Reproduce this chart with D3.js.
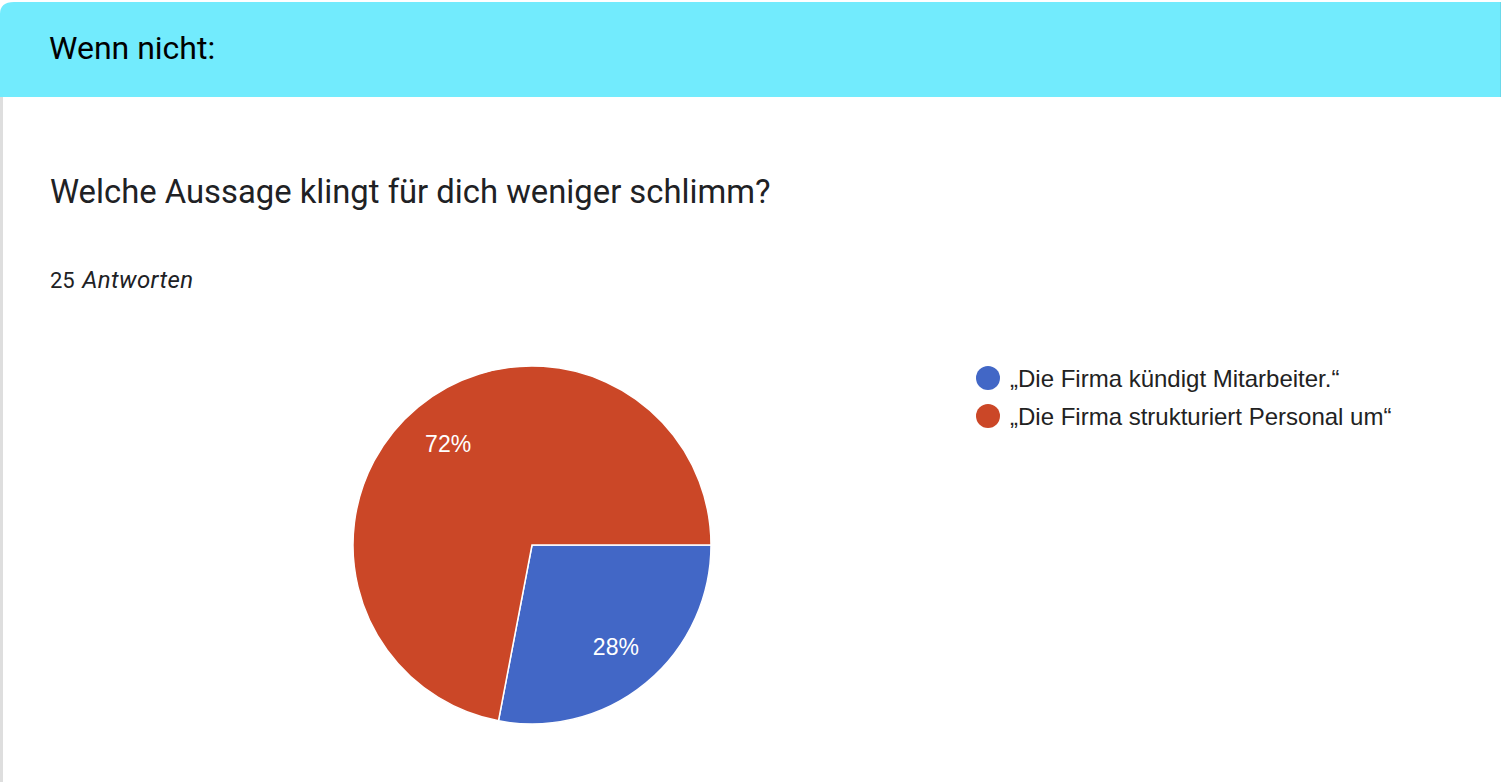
<!DOCTYPE html>
<html>
<head>
<meta charset="utf-8">
<script src="https://cdn.jsdelivr.net/npm/d3@7"></script>
<style>
  html, body { margin: 0; padding: 0; background: #ffffff; }
  svg { display: block; }
</style>
</head>
<body>
<svg id="chart" width="1503" height="782"></svg>
<script>
const sectionTitle = "Wenn nicht:";
const question = "Welche Aussage klingt für dich weniger schlimm?";
const responseCount = "25";
const responseWord = "Antworten";
const categories = ["„Die Firma kündigt Mitarbeiter.“", "„Die Firma strukturiert Personal um“"];
const values = [7, 18];
const colors = ["#4267c6", "#cb4727"];

const svg = d3.select("#chart");
const W = 1503, H = 782;

// card background + borders
svg.append("rect").attr("x", 0).attr("y", 0).attr("width", W).attr("height", H).attr("fill", "#ffffff");
svg.append("rect").attr("x", 0).attr("y", 90).attr("width", 3).attr("height", H - 90).attr("fill", "#dedede");

// header band
svg.append("path")
  .attr("d", `M0,97 L0,14 Q0,2 14,2 L${W-3},2 L${W-3},97 Z`)
  .attr("fill", "#72ebfd");
svg.append("rect").attr("x", W - 3).attr("y", 2).attr("width", 1).attr("height", 95).attr("fill", "#6ad9ea");

svg.append("text")
  .attr("x", 49).attr("y", 59)
  .attr("font-family", "Roboto, sans-serif")
  .attr("font-size", 32)
  .attr("fill", "#000000")
  .text(sectionTitle);

svg.append("text")
  .attr("x", 50).attr("y", 203)
  .attr("font-family", "Roboto, sans-serif")
  .attr("font-size", 32.8)
  .attr("fill", "#202124")
  .text(question);

const cnt = svg.append("text")
  .attr("x", 50).attr("y", 288)
  .attr("font-family", "Roboto, sans-serif")
  .attr("font-size", 22)
  .attr("fill", "#202124");
cnt.append("tspan").text(responseCount + " ");
cnt.append("tspan")
  .attr("dx", 2)
  .attr("font-style", "italic")
  .attr("font-size", 24)
  .attr("letter-spacing", 0.4)
  .text(responseWord);

// pie
const cx = 532, cy = 545, r = 179;
const total = d3.sum(values);
const pie = d3.pie().sort(null).value(d => d)
  .startAngle(Math.PI / 2).endAngle(Math.PI / 2 + 2 * Math.PI);
const arcs = pie(values);
const arc = d3.arc().innerRadius(0).outerRadius(r);
const labelArc = d3.arc().innerRadius(r * 0.735).outerRadius(r * 0.735);

const g = svg.append("g").attr("transform", `translate(${cx},${cy})`);
g.selectAll("path.slice")
  .data(arcs)
  .join("path")
  .attr("class", "slice")
  .attr("d", arc)
  .attr("fill", (d, i) => colors[i])
  .attr("stroke", "#ffffff")
  .attr("stroke-width", 1.5);

g.selectAll("text.lbl")
  .data(arcs)
  .join("text")
  .attr("class", "lbl")
  .attr("transform", d => `translate(${labelArc.centroid(d)})`)
  .attr("text-anchor", "middle")
  .attr("dy", "0.36em")
  .attr("font-family", "Liberation Sans, Arial, sans-serif")
  .attr("font-size", 23)
  .attr("fill", "#ffffff")
  .text(d => Math.round(d.data / total * 100) + "%");

// legend
const legend = svg.append("g").attr("transform", "translate(988,378)");
const items = legend.selectAll("g.item")
  .data(categories)
  .join("g")
  .attr("class", "item")
  .attr("transform", (d, i) => `translate(0,${i * 38})`);
items.append("circle").attr("r", 12).attr("fill", (d, i) => colors[i]);
items.append("text")
  .attr("x", 22).attr("dy", "0.36em")
  .attr("font-family", "Liberation Sans, Arial, sans-serif")
  .attr("font-size", 24)
  .attr("fill", "#222222")
  .text(d => d);
</script>
</body>
</html>
